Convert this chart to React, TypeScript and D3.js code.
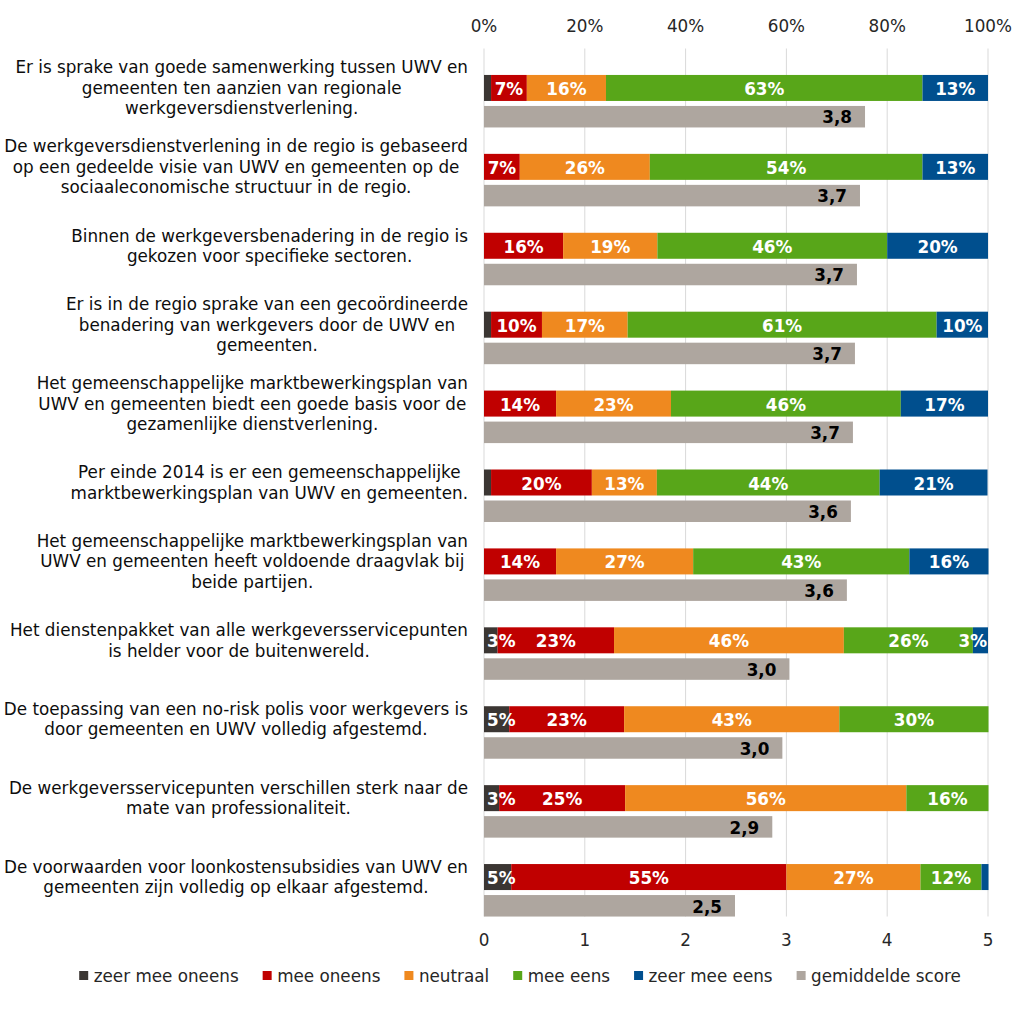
import React from "react";
import * as d3 from "d3";

const categories: string[][] = [
  ["Er is sprake van goede samenwerking tussen UWV en", "gemeenten ten aanzien van regionale", "werkgeversdienstverlening."],
  ["De werkgeversdienstverlening in de regio is gebaseerd", "op een gedeelde visie van UWV en gemeenten op de", "sociaaleconomische structuur in de regio."],
  ["Binnen de werkgeversbenadering in de regio is", "gekozen voor specifieke sectoren."],
  ["Er is in de regio sprake van een gecoördineerde", "benadering van werkgevers door de UWV en", "gemeenten."],
  ["Het gemeenschappelijke marktbewerkingsplan van", "UWV en gemeenten biedt een goede basis voor de", "gezamenlijke dienstverlening."],
  ["Per einde 2014 is er een gemeenschappelijke", "marktbewerkingsplan van UWV en gemeenten."],
  ["Het gemeenschappelijke marktbewerkingsplan van", "UWV en gemeenten heeft voldoende draagvlak bij", "beide partijen."],
  ["Het dienstenpakket van alle werkgeversservicepunten", "is helder voor de buitenwereld."],
  ["De toepassing van een no-risk polis voor werkgevers is", "door gemeenten en UWV volledig afgestemd."],
  ["De werkgeversservicepunten verschillen sterk naar de", "mate van professionaliteit."],
  ["De voorwaarden voor loonkostensubsidies van UWV en", "gemeenten zijn volledig op elkaar afgestemd."],
];

const zeerMeeOneens = [1.4, 0, 0, 1.4, 0, 1.4, 0, 2.7, 5.0, 3.0, 5.4];
const meeOneens = [7.1, 7.1, 15.7, 10.1, 14.3, 20.0, 14.3, 23.1, 22.8, 25.0, 54.6];
const neutraal = [15.7, 25.8, 18.7, 17.0, 22.8, 12.9, 27.2, 45.6, 42.7, 55.8, 26.6];
const meeEens = [62.8, 54.1, 45.6, 61.3, 45.6, 44.2, 42.9, 25.6, 29.6, 16.3, 12.1];
const zeerMeeEens = [13.0, 13.0, 20.0, 10.2, 17.3, 21.4, 15.7, 3.0, 0, 0, 1.4];
const gemiddeldeScore = [3.78, 3.73, 3.7, 3.68, 3.66, 3.64, 3.6, 3.03, 2.96, 2.86, 2.49];

const seriesNames = ["zeer mee oneens", "mee oneens", "neutraal", "mee eens", "zeer mee eens", "gemiddelde score"];
const seriesColors = ["#3b3633", "#c00000", "#ef891f", "#58a619", "#004f8e", "#aea69f"];
const pctTicks = [0, 20, 40, 60, 80, 100];
const scoreTicks = [0, 1, 2, 3, 4, 5];

const FONT = "'DejaVu Sans', Verdana, sans-serif";
const FS = 16.8;

let ctx: CanvasRenderingContext2D | null = null;
function measure(text: string, bold = false): number {
  if (!ctx) ctx = document.createElement("canvas").getContext("2d");
  if (!ctx) return text.length * FS * 0.6;
  ctx.font = `${bold ? "bold " : ""}${FS}px 'DejaVu Sans'`;
  return ctx.measureText(text).width;
}

export default function App() {
  const W = 1025, H = 1015;
  const plotL = 484, plotR = 988, plotT = 48.5, plotB = 916.5;
  const xPct = d3.scaleLinear().domain([0, 100]).range([plotL, plotR]);
  const xScore = d3.scaleLinear().domain([0, 5]).range([plotL, plotR]);
  const y = d3.scaleBand<number>().domain(d3.range(categories.length)).range([plotT, plotB]).paddingInner(0).paddingOuter(0);
  const bw = y.bandwidth();

  const stackData = categories.map((_, i) => ({
    i,
    s0: zeerMeeOneens[i], s1: meeOneens[i], s2: neutraal[i], s3: meeEens[i], s4: zeerMeeEens[i],
  }));
  const stack = d3.stack<any>().keys(["s0", "s1", "s2", "s3", "s4"]);
  const stacked = stack(stackData);

  const labelRight = 468;
  const lineH = 20.5;

  // Legend layout
  const legendItems = seriesNames.map((n) => ({ n, w: measure(n) }));
  const sq = 9, sqGap = 5.5, itemGap = 24;
  const totalW = d3.sum(legendItems, (d) => sq + sqGap + d.w) + itemGap * (legendItems.length - 1);
  let lx = 520 - totalW / 2;
  const legendPos = legendItems.map((d) => {
    const p = lx;
    lx += sq + sqGap + d.w + itemGap;
    return p;
  });

  return (
    <svg width={W} height={H} style={{ position: "absolute", left: 0, top: 0, fontFamily: FONT }}>
      <rect width={W} height={H} fill="#fff" />
      {pctTicks.map((t) => (
        <line key={t} x1={xPct(t)} x2={xPct(t)} y1={plotT} y2={plotB} stroke="#d9d9d9" strokeWidth={1} />
      ))}
      {pctTicks.map((t) => (
        <text key={t} x={xPct(t)} y={26} textAnchor="middle" dominantBaseline="central" fontSize={FS} fill="#262626">
          {t}%
        </text>
      ))}
      {scoreTicks.map((t) => (
        <text key={t} x={xScore(t)} y={940} textAnchor="middle" dominantBaseline="central" fontSize={FS} fill="#262626">
          {t}
        </text>
      ))}
      {categories.map((lines, i) => {
        const cy = (y(i) as number) + bw / 2;
        const maxW = d3.max(lines, (l) => measure(l)) as number;
        const cx = labelRight - maxW / 2;
        const y0 = cy - ((lines.length - 1) * lineH) / 2;
        return (
          <text key={i} textAnchor="middle" fontSize={FS} fill="#0d0d0d">
            {lines.map((l, j) => (
              <tspan key={j} x={cx} y={y0 + j * lineH} dominantBaseline="central">
                {l}
              </tspan>
            ))}
          </text>
        );
      })}
      {stacked.map((layer, k) => (
        <g key={k} fill={seriesColors[k]}>
          {layer.map((d, i) => {
            const cy = (y(i) as number) + bw / 2;
            const x0 = xPct(d[0]);
            const x1 = xPct(d[1]);
            const v = d[1] - d[0];
            if (v <= 0) return null;
            return <rect key={i} x={x0} y={cy - 13} width={x1 - x0} height={26} />;
          })}
        </g>
      ))}
      {stacked.map((layer, k) => (
        <g key={"l" + k}>
          {layer.map((d, i) => {
            const v = d[1] - d[0];
            if (v < 2.5) return null;
            const cy = (y(i) as number) + bw / 2;
            const txt = `${Math.round(v)}%`;
            const tw = measure(txt, true);
            let cx = (xPct(d[0]) + xPct(d[1])) / 2;
            cx = Math.max(cx, plotL + 3 + tw / 2);
            cx = Math.min(cx, plotR - 1 - tw / 2);
            return (
              <text key={i} x={cx} y={cy + 1} textAnchor="middle" dominantBaseline="central" fontSize={FS} fontWeight="bold" fill="#fff">
                {txt}
              </text>
            );
          })}
        </g>
      ))}
      {gemiddeldeScore.map((v, i) => {
        const cy = (y(i) as number) + bw / 2;
        return (
          <g key={"g" + i}>
            <rect x={xScore(0)} y={cy + 18} width={xScore(v) - xScore(0)} height={21.5} fill={seriesColors[5]} />
            <text x={xScore(v) - 13} y={cy + 29.5} textAnchor="end" dominantBaseline="central" fontSize={FS} fontWeight="bold" fill="#000">
              {v.toFixed(1).replace(".", ",")}
            </text>
          </g>
        );
      })}
      {legendItems.map((d, k) => (
        <g key={"lg" + k}>
          <rect x={legendPos[k]} y={971} width={sq} height={sq} fill={seriesColors[k]} />
          <text x={legendPos[k] + sq + sqGap} y={975.5} dominantBaseline="central" fontSize={FS} fill="#262626">
            {d.n}
          </text>
        </g>
      ))}
    </svg>
  );
}
